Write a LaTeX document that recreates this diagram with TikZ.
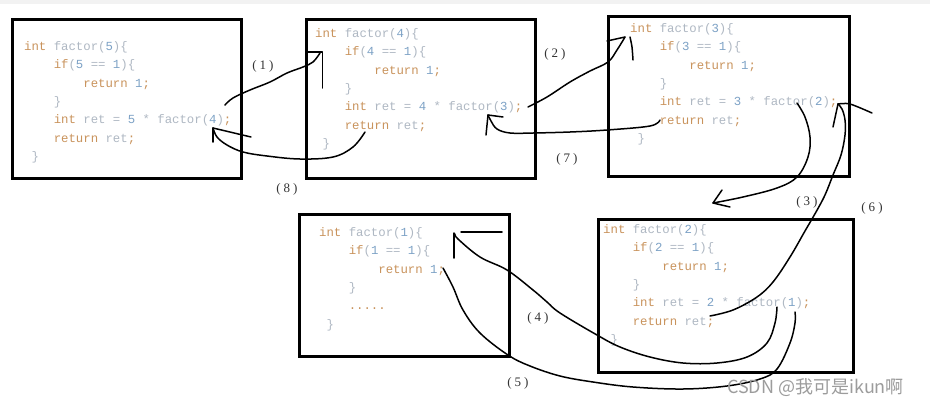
\documentclass[tikz,border=0pt]{standalone}
\usepackage{fontspec}
\setmainfont{Liberation Serif}
\newfontfamily\codefont{Liberation Mono}
\newfontfamily\cjkfont{Noto Sans CJK SC}
\definecolor{kw}{HTML}{C9935C}
\definecolor{idc}{HTML}{AFB8C3}
\definecolor{numc}{HTML}{7DA2C6}
\definecolor{labc}{HTML}{333333}
\definecolor{wmc}{HTML}{9C9C9C}
\definecolor{topg}{HTML}{F2F2F2}
\newcommand\K[1]{\textcolor{kw}{#1}}
\newcommand\I[1]{\textcolor{idc}{#1}}
\newcommand\N[1]{\textcolor{numc}{#1}}
\newcommand\lvA{\hspace*{29.6pt}}
\newcommand\lvB{\hspace*{59.2pt}}
\newcommand\lvS{\hspace*{7.4pt}}
\newcommand\fl{\rule{0pt}{11pt}}
\newcommand\lb[1]{(\hspace{3pt}#1\hspace{3pt})}
\tikzset{
  frame/.style={draw=black, line width=3pt, anchor=north west, inner sep=0pt},
  code/.style={anchor=north west, inner sep=0pt, align=left,
    font={\codefont\fontsize{12.33pt}{18.4pt}\selectfont}},
  lab/.style={inner sep=0pt, text=labc, font={\fontsize{13pt}{13pt}\selectfont}},
  hand/.style={draw=black, line width=1.5pt, line cap=round, line join=round},
}
\begin{document}
\begin{tikzpicture}[x=1pt,y=-1pt]
\path[use as bounding box] (0,0) rectangle (930,408);
\fill[white] (0,0) rectangle (930,408);
\fill[topg] (0,0) rectangle (930,4);

% boxes
\node[frame, minimum width=229pt, minimum height=159pt] (box1) at (11,18) {};
\node[frame, minimum width=229pt, minimum height=159pt] (box2) at (305,18) {};
\node[frame, minimum width=241pt, minimum height=160pt] (box3) at (607,15) {};
\node[frame, minimum width=210pt, minimum height=142pt] (box4) at (298,213) {};
\node[frame, minimum width=255pt, minimum height=153pt] (box5) at (597,218) {};

% code
\node[code] (code1) at (24,39) {\fl\K{int} \I{factor(}\N{5}\I{)\{}\\
\lvA\K{if}\I{(}\N{5} \I{==} \N{1}\I{)\{}\\
\lvB\K{return} \N{1}\K{;}\\
\lvA\I{\}}\\
\lvA\K{int} \I{ret =} \N{5} \I{* factor(}\N{4}\I{)}\K{;}\\
\lvA\K{return} \I{ret}\K{;}\\
\lvS\I{\}}};

\node[code] (code2) at (315,26) {\fl\K{int} \I{factor(}\N{4}\I{)\{}\\
\lvA\K{if}\I{(}\N{4} \I{==} \N{1}\I{)\{}\\
\lvB\K{return} \N{1}\K{;}\\
\lvA\I{\}}\\
\lvA\K{int} \I{ret =} \N{4} \I{* factor(}\N{3}\I{)}\K{;}\\
\lvA\K{return} \I{ret}\K{;}\\
\lvS\I{\}}};

\node[code] (code3) at (630,21) {\fl\K{int} \I{factor(}\N{3}\I{)\{}\\
\lvA\K{if}\I{(}\N{3} \I{==} \N{1}\I{)\{}\\
\lvB\K{return} \N{1}\K{;}\\
\lvA\I{\}}\\
\lvA\K{int} \I{ret =} \N{3} \I{* factor(}\N{2}\I{)}\K{;}\\
\lvA\K{return} \I{ret}\K{;}\\
\lvS\I{\}}};

\node[code] (code4) at (319,225) {\fl\K{int} \I{factor(}\N{1}\I{)\{}\\
\lvA\K{if}\I{(}\N{1} \I{==} \N{1}\I{)\{}\\
\lvB\K{return} \N{1}\K{;}\\
\lvA\I{\}}\\
\lvA\K{.....}\\
\lvS\I{\}}};

\node[code] (code5) at (603,222) {\fl\K{int} \I{factor(}\N{2}\I{)\{}\\
\lvA\K{if}\I{(}\N{2} \I{==} \N{1}\I{)\{}\\
\lvB\K{return} \N{1}\K{;}\\
\lvA\I{\}}\\
\lvA\K{int} \I{ret =} \N{2} \I{* factor(}\N{1}\I{)}\K{;}\\
\lvA\K{return} \I{ret}\K{;}\\
\lvS\I{\}}};

% labels
\node[lab] (l1) at (263,66) {\lb{1}};
\node[lab] (l2) at (555,54) {\lb{2}};
\node[lab] (l3) at (807,202) {\lb{3}};
\node[lab] (l4) at (538,318) {\lb{4}};
\node[lab] (l5) at (518,383) {\lb{5}};
\node[lab] (l6) at (872,208) {\lb{6}};
\node[lab] (l7) at (567,159) {\lb{7}};
\node[lab] (l8) at (287,189) {\lb{8}};

% hand strokes
\coordinate (s1) at (225,105); \coordinate (t1) at (320,53);
\draw[hand] plot[smooth,tension=0.6] coordinates {(s1) (233,98) (250,90) (270,82) (287,73) (303,67) (313,62) (t1)};
\draw[hand] (306,52) -- (322.5,52) -- (322.5,88);

\coordinate (s2) at (528,107); \coordinate (t2) at (625,37);
\draw[hand] plot[smooth,tension=0.6] coordinates {(s2) (547,97) (570,82) (590,71) (608,62) (617,50) (t2)};
\draw[hand] (607,41) -- (t2);
\draw[hand] plot[smooth] coordinates {(630,37) (632,47) (633,60)};

\coordinate (s3) at (797,103); \coordinate (t3) at (713,203);
\draw[hand] plot[smooth,tension=0.6] coordinates {(s3) (805,117) (810,137) (808,157) (797,177) (777,188) (743,197) (t3)};
\draw[hand] (722,190) -- (t3) -- (730,207);

\coordinate (s4) at (777,307); \coordinate (t4) at (455,234);
\draw[hand] plot[smooth,tension=0.6] coordinates {(s4) (775,323) (767,343) (747,357) (717,363) (683,363) (650,357) (620,347) (597,335) (560,313) (547,302) (533,290) (507,270) (480,257) (458,239) (t4)};
\draw[hand] (454,258) -- (454,233);
\draw[hand] (461,232) -- (502,232);

\coordinate (s5) at (443,268); \coordinate (t5) at (795,312);
\draw[hand] plot[smooth,tension=0.6] coordinates {(s5) (453,287) (463,310) (480,333) (508,355) (530,366) (560,376) (593,382) (633,387) (683,389) (727,386) (760,379) (777,369) (790,343) (795,323) (t5)};

\coordinate (s6) at (710,316); \coordinate (t6) at (838,104);
\draw[hand] plot[smooth,tension=0.6] coordinates {(s6) (733,310) (757,297) (773,282) (790,257) (805,231) (816,212) (825,195) (833,175) (841,155) (845,135) (845,120) (842,109) (t6)};
\draw[hand] (t6) -- (833,127);
\draw[hand] plot[smooth] coordinates {(t6) (850,104) (872,113)};

\coordinate (s7) at (660,120); \coordinate (t7) at (488,115);
\draw[hand] plot[smooth,tension=0.6] coordinates {(s7) (650,126) (607,130) (570,132) (533,133) (510,133) (497,129) (491,121) (t7)};
\draw[hand] (t7) -- (486,135);
\draw[hand] (t7) -- (503,117);

\coordinate (s8) at (365,132); \coordinate (t8) at (213,128);
\draw[hand] plot[smooth,tension=0.6] coordinates {(s8) (353,147) (333,157) (300,159) (267,156) (243,152) (227,145) (217,137) (t8)};
\draw[hand] (t8) -- (213,142);
\draw[hand] (t8) -- (251,137);

% watermark
\node[anchor=west, inner sep=0pt, text=wmc, font={\cjkfont\fontsize{18pt}{18pt}\selectfont}] (wm) at (727,388) {CSDN @我可是ikun啊};
\end{tikzpicture}
\end{document}
